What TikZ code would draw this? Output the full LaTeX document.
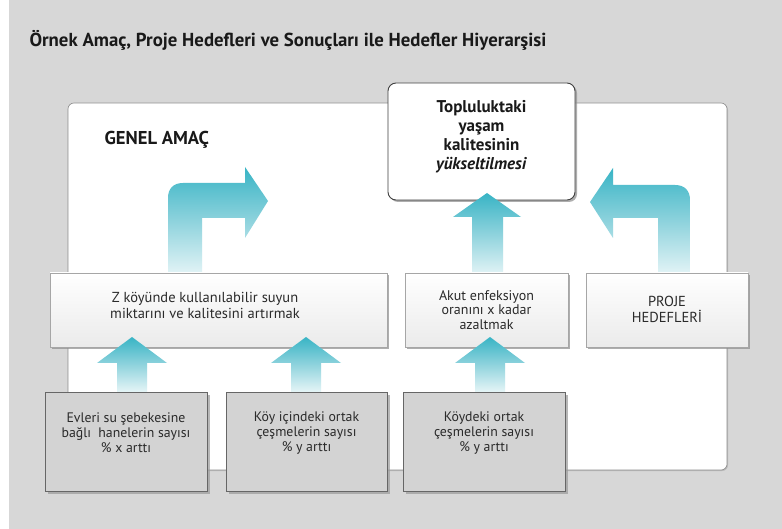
\documentclass[tikz,border=0pt]{standalone}
\usepackage{fontspec}
\setmainfont{PT Sans}
\usetikzlibrary{shadows}
\definecolor{bg}{HTML}{D7D7D7}
\definecolor{cyd}{HTML}{38B4C5}
\definecolor{cym}{HTML}{8FD3DD}
\definecolor{cyl}{HTML}{E6F5F7}
\definecolor{boxg}{HTML}{D3D3D3}
\definecolor{txt}{HTML}{2A2A2A}
\tikzset{
  panel/.style={fill=white, draw=black!45, line width=0.6pt, rounded corners=6pt,
    drop shadow={shadow xshift=1pt, shadow yshift=-1pt, fill=black!35, opacity=0.6}},
  goalbox/.style={fill=white, draw=black!75, line width=0.9pt, rounded corners=8pt,
    drop shadow={shadow xshift=2pt, shadow yshift=-2pt, fill=black!45, opacity=0.7},
    inner sep=0pt},
  midbox/.style={top color=white, bottom color=black!8, draw=black!35, line width=0.6pt,
    drop shadow={shadow xshift=2pt, shadow yshift=-2pt, fill=black!45, opacity=0.7},
    inner sep=0pt},
  lowbox/.style={fill=boxg, draw=black!60, line width=0.7pt,
    drop shadow={shadow xshift=2.5pt, shadow yshift=-2.5pt, fill=black!40, opacity=0.7},
    inner sep=0pt},
  blockarrow/.style={top color=cyd, bottom color=cyl, middle color=cym, draw=none},
  bodytext/.style={text=txt, align=center, font=\fontsize{14.5}{16}\selectfont},
  lowtext/.style={text=txt, align=center, font=\fontsize{13.8}{15}\selectfont},
}
\newcommand{\uparr}[2]{% center x, tip y
  \path[blockarrow] (#1,#2) -- (#1+35,#2+26) -- (#1+15,#2+26) -- (#1+15,392)
    -- (#1-15,392) -- (#1-15,#2+26) -- (#1-35,#2+26) -- cycle;}
\begin{document}
\begin{tikzpicture}[x=1pt,y=-1pt]
\useasboundingbox (0,0) rectangle (782,529);
\fill[white] (0,0) rectangle (782,529);
\fill[bg] (9,0) rectangle (782,529);

\node[anchor=west, text=black!90, font=\fontsize{18.8}{20}\selectfont\bfseries] (title) at (26,40)
  {Örnek Amaç, Proje Hedefleri ve Sonuçları ile Hedefler Hiyerarşisi};

\node[panel, minimum width=659pt, minimum height=367pt, inner sep=0pt] (panel) at (397.5,286.5) {};

\node[anchor=west, text=black!90, font=\fontsize{18.6}{20}\selectfont\bfseries] (genel) at (101,140) {GENEL AMAÇ};

% top goal box
\node[goalbox, minimum width=187pt, minimum height=117pt] (goal) at (481.5,141.5) {};
\node[align=center, text=black!90, font=\fontsize{17}{19}\selectfont\bfseries] (goalt) at (481.5,137)
  {Topluluktaki\\yaşam\\kalitesinin\\\textit{yükseltilmesi}};

% bent arrow left
\path[blockarrow] (168,276) -- (168,198) .. controls (168,189) and (173,183) .. (183,183)
  -- (245,183) -- (245,167) -- (268,201) -- (245,238) -- (245,218) -- (202,218) -- (202,276) -- cycle;
% bent arrow right
\path[blockarrow] (658,276) -- (658,218) -- (613,218) -- (613,238) -- (590,202) -- (613,168)
  -- (613,185) -- (675,185) .. controls (685,185) and (690,191) .. (690,200) -- (690,276) -- cycle;
% top arrow
\path[blockarrow] (487,193) -- (521,217) -- (503,217) -- (503,276) -- (472,276) -- (472,217) -- (453,217) -- cycle;

% middle boxes
\node[midbox, minimum width=337pt, minimum height=74pt] (z) at (218.5,310) {};
\node[bodytext] (zt) at (205,305) {Z köyünde kullanılabilir suyun\\miktarını ve kalitesini artırmak};
\node[midbox, minimum width=163pt, minimum height=74pt] (akut) at (486.5,310) {};
\node[bodytext, font=\fontsize{14}{14.5}\selectfont] (akutt) at (486.5,310) {Akut enfeksiyon\\oranını x kadar\\azaltmak};
\node[midbox, minimum width=162pt, minimum height=74pt] (proje) at (667,310) {};
\node[bodytext] (projet) at (667,309.5) {PROJE\\HEDEFLERİ};

% upward arrows
\uparr{132}{337}
\uparr{306}{337}
\uparr{490}{337}

% bottom boxes
\node[lowbox, minimum width=162pt, minimum height=99pt] (b1) at (126,441.5) {};
\node[lowtext] (b1t) at (126,433) {Evleri su şebekesine\\bağlı\ \ hanelerin sayısı\\\% x arttı};
\node[lowbox, minimum width=161pt, minimum height=99pt] (b2) at (306.5,441.5) {};
\node[lowtext] (b2t) at (306.5,433) {Köy içindeki ortak\\çeşmelerin sayısı\\\% y arttı};
\node[lowbox, minimum width=162pt, minimum height=99pt] (b3) at (484,441.5) {};
\node[lowtext] (b3t) at (484,433) {Köydeki ortak\\çeşmelerin sayısı\\\% y arttı};
\end{tikzpicture}
\end{document}
